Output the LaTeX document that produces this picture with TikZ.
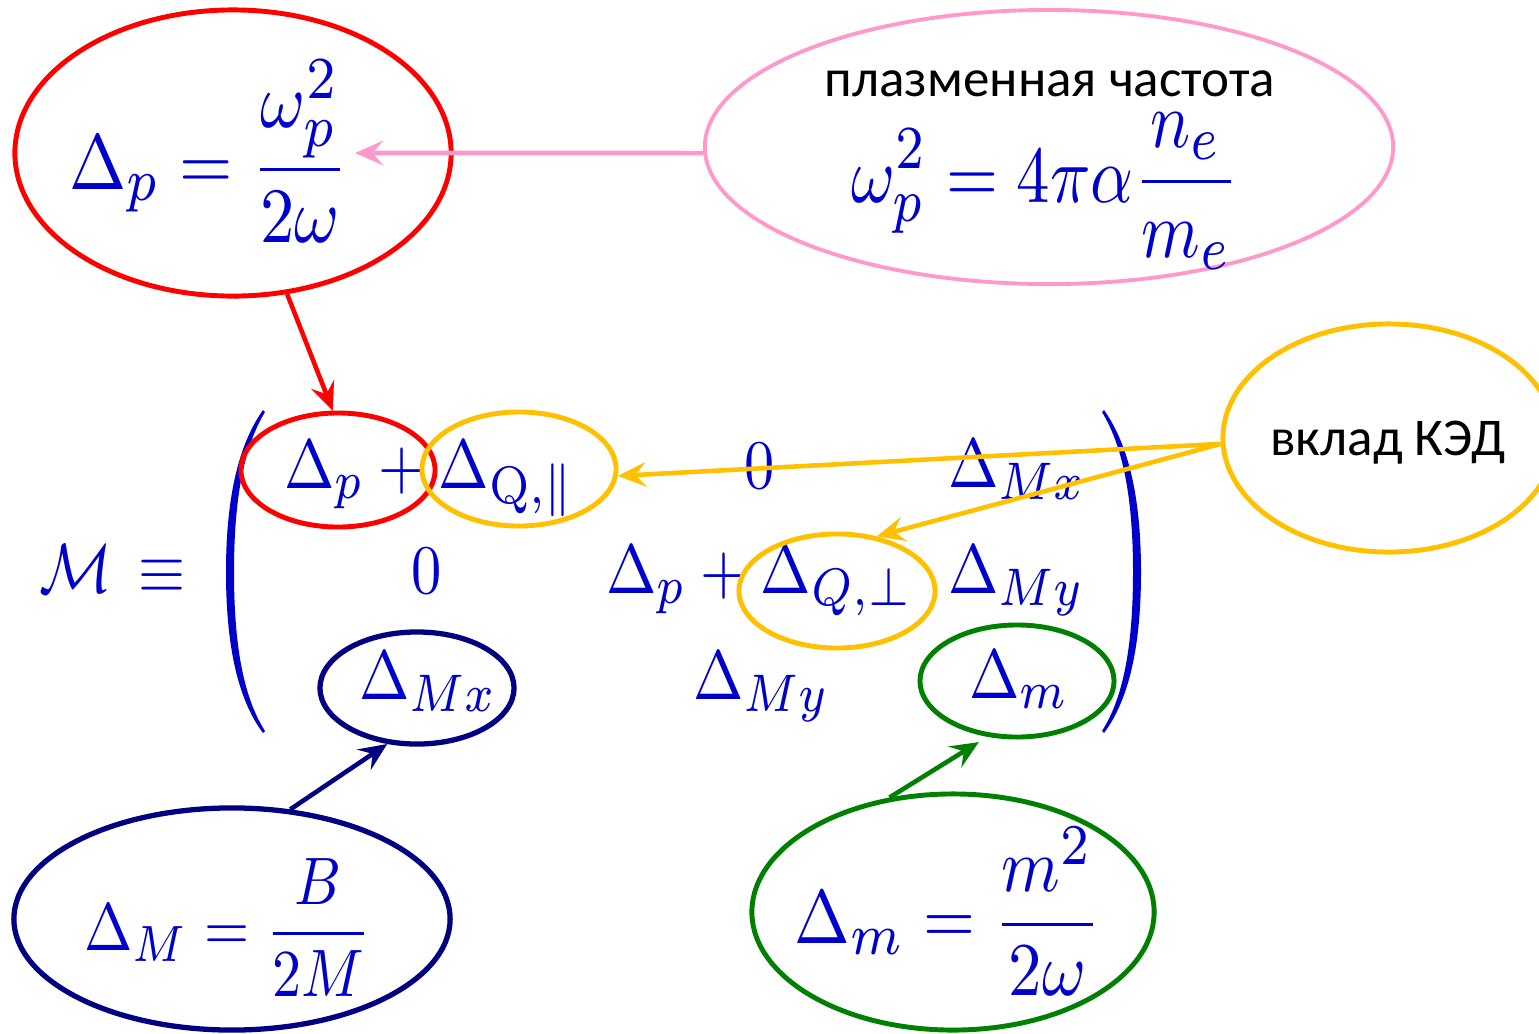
\RequirePackage{fix-cm}
\documentclass[tikz,border=0pt]{standalone}
\usepackage{amsmath,amssymb}
\usepackage[no-math]{fontspec}
\newfontfamily\rufont{Carlito}
\usetikzlibrary{arrows.meta, shapes.geometric}
\DeclareMathSizes{10}{10}{7.6}{5.5}

\definecolor{eqblue}{RGB}{0,0,204}
\definecolor{plasmapink}{RGB}{255,153,204}
\definecolor{qedorange}{RGB}{255,192,0}
\definecolor{magnavy}{RGB}{0,0,128}
\definecolor{massgreen}{RGB}{0,128,0}

\begin{document}
\begin{tikzpicture}[
  x=0.01cm, y=-0.01cm,
  oval/.style={draw, ellipse, inner sep=0pt, line width=1.4pt},
  eq/.style 2 args={text=eqblue, inner sep=0pt, anchor=base west, xscale=#1, yscale=#2},
  entry/.style={eq={1.72}{1.98}},
  note/.style={font=\rufont\fontsize{15.1}{18}\selectfont, inner sep=0pt, anchor=base},
  arr/.style={-{Stealth[length=8pt, width=7pt, inset=3pt]}, line width=1.3pt}
]
\useasboundingbox (0,0) rectangle (1539,1033);

% plasma term
\node[oval, red, minimum width=4.36cm, minimum height=2.86cm] (dp) at (233,153) {};
\node[eq={1.95}{2.23}] (dpf) at (68,189) {$\displaystyle\Delta_p = \frac{\omega_p^2}{2\omega}$};
\node[oval, plasmapink, line width=1.1pt, minimum width=6.88cm, minimum height=2.74cm] (wp) at (1049,147) {};
\node[note] (wptext) at (1050,96) {плазменная частота};
\node[eq={1.9}{2.29}] (wpf) at (850,202) {$\displaystyle\omega_p^2 = 4\pi\alpha\frac{n_e}{m_e}$};
\coordinate (dptip) at (355,153);

% mixing matrix
\node[entry] (mm) at (38,592) {$\mathcal{M}\,\equiv$};
\fill[eqblue] (263,410) .. controls (236,448) and (226,505) .. (226,572)
  .. controls (226,640) and (236,697) .. (263,733) -- (265,731)
  .. controls (242,695) and (234,640) .. (234,572)
  .. controls (234,505) and (242,450) .. (265,412) -- cycle;
\fill[eqblue] (1104,410) .. controls (1131,448) and (1141,505) .. (1141,572)
  .. controls (1141,640) and (1131,697) .. (1104,733) -- (1102,731)
  .. controls (1125,695) and (1133,640) .. (1133,572)
  .. controls (1133,505) and (1125,450) .. (1102,412) -- cycle;
\node[entry] (a11) at (283,488) {$\Delta_p+\Delta_{\mathrm{Q},\|}$};
\node[entry, anchor=base] (a12) at (760,488) {$0$};
\node[entry] (a13) at (947,487) {$\Delta_{Mx}$};
\node[entry, anchor=base] (a21) at (427,593) {$0$};
\node[entry] (a22) at (605,593) {$\Delta_p+\Delta_{Q,\perp}$};
\node[entry] (a23) at (947,593) {$\Delta_{My}$};
\node[entry] (a31) at (358,699) {$\Delta_{Mx}$};
\node[entry] (a32) at (692,699) {$\Delta_{My}$};
\node[entry] (a33) at (968,698) {$\Delta_m$};

\node[oval, red, minimum width=1.94cm, minimum height=1.14cm] (dpm) at (338,470) {};
\node[oval, qedorange, minimum width=1.94cm, minimum height=1.14cm] (qpar) at (519,469) {};
\node[oval, qedorange, minimum width=1.96cm, minimum height=1.14cm] (qperp) at (837,591) {};
\node[oval, magnavy, line width=1.5pt, minimum width=1.94cm, minimum height=1.12cm] (mx) at (417,688) {};
\node[oval, massgreen, minimum width=1.94cm, minimum height=1.12cm] (mg) at (1017,681) {};

% QED
\node[oval, qedorange, minimum width=3.32cm, minimum height=2.28cm] (qed) at (1389,438) {};
\node[note] (qedtext) at (1388,455) {вклад КЭД};

% magnetic and mass terms
\node[oval, magnavy, line width=1.5pt, minimum width=4.36cm, minimum height=2.22cm] (dmb) at (232,919) {};
\node[eq={1.65}{1.91}] (dmf) at (83,950) {$\displaystyle\Delta_M=\frac{B}{2M}$};
\node[oval, massgreen, minimum width=4.02cm, minimum height=2.36cm] (dmg) at (953,912) {};
\node[eq={1.9}{2.16}] (dmgf) at (793,943) {$\displaystyle\Delta_m=\frac{m^2}{2\omega}$};

\draw[arr, plasmapink] (wp.181) -- (dptip);
\draw[arr, red] (dp.-69) -- (dpm.95);
\draw[arr, qedorange] (qed.182) -- (qpar.-4);
\draw[arr, qedorange] (qed.182) -- (qperp.54);
\draw[arr, magnavy] (dmb.62) -- (mx.-118);
\draw[arr, massgreen, shorten >=0.1cm] (dmg.119) -- (mg.-118);
\end{tikzpicture}
\end{document}
